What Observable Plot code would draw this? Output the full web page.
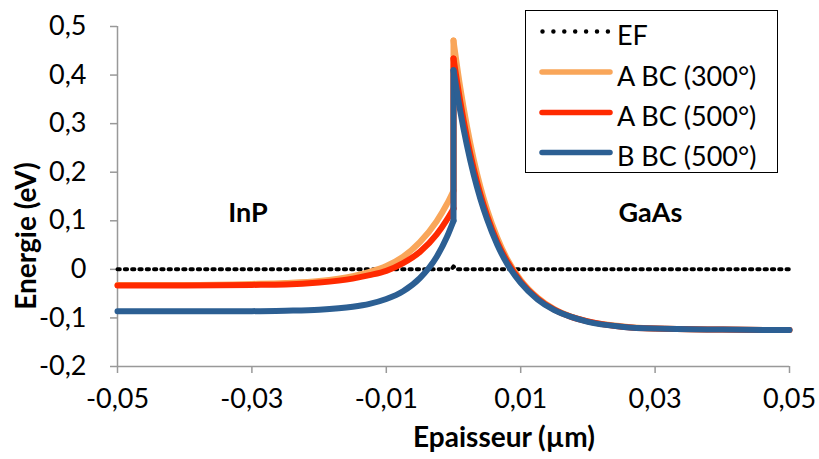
<!DOCTYPE html>
<html><head><meta charset="utf-8">
<script src="https://cdn.jsdelivr.net/npm/d3@7"></script>
<script src="https://cdn.jsdelivr.net/npm/@observablehq/plot@0.6"></script>
<style>
body{margin:0;background:#fff;}
#wrap{position:relative;width:819px;height:459px;font-family:Lato,sans-serif;overflow:hidden;}
#legend{position:absolute;left:525px;top:10px;width:253px;height:163px;border:1.5px solid #000;box-sizing:border-box;background:#fff;}
.title{position:absolute;font-family:Lato,sans-serif;font-weight:bold;font-size:28px;white-space:nowrap;color:#000;}
</style></head><body>
<div id="wrap"><div id="chart"></div><div id="legend"></div>
<div class="title" id="ytitle" style="left:25px;top:236px;transform:translate(-50%,-50%) rotate(-90deg);">Energie (eV)</div>
<div class="title" id="xtitle" style="left:504px;top:436px;transform:translate(-50%,-50%);">Epaisseur (µm)</div>
</div>
<script>
// ---- data ----
const seriesNames = ["EF", "A BC (300°)", "A BC (500°)", "B BC (500°)"];
const seriesColors = ["#000000", "#F9A65A", "#FF2A00", "#2C5F93"];
const xTicks = [-0.05, -0.03, -0.01, 0.01, 0.03, 0.05];
const yTicks = [-0.2, -0.1, 0, 0.1, 0.2, 0.3, 0.4, 0.5];

const xEF = [-0.05, -0.0003, 0, 0.0005, 0.05];
const efValues = [0, 0, 0.006, 0, 0];

const xLeft = [-0.05, -0.04, -0.03, -0.025, -0.02, -0.015, -0.0125, -0.01, -0.0075, -0.005, -0.0025, -0.001, 0];
const orangeLeft = [-0.032, -0.032, -0.030, -0.028, -0.024, -0.014, -0.005, 0.007, 0.026, 0.056, 0.099, 0.134, 0.162];
const redLeft = [-0.033, -0.033, -0.032, -0.031, -0.027, -0.019, -0.012, -0.003, 0.013, 0.036, 0.072, 0.102, 0.125];
const blueLeft = [-0.086, -0.086, -0.086, -0.085, -0.083, -0.077, -0.071, -0.061, -0.045, -0.018, 0.026, 0.066, 0.100];

const xRight = [0, 0.001, 0.002, 0.003, 0.004, 0.005, 0.0065, 0.008, 0.01, 0.0125, 0.015, 0.0175, 0.02, 0.025, 0.03, 0.04, 0.05];
const orangeRight = [0.471, 0.375, 0.295, 0.227, 0.170, 0.123, 0.066, 0.021, -0.022, -0.058, -0.082, -0.097, -0.107, -0.117, -0.122, -0.124, -0.125];
const redRight = [0.434, 0.346, 0.271, 0.208, 0.155, 0.111, 0.057, 0.016, -0.025, -0.060, -0.083, -0.098, -0.107, -0.118, -0.122, -0.124, -0.125];
const blueRight = [0.410, 0.326, 0.255, 0.195, 0.145, 0.103, 0.051, 0.011, -0.028, -0.062, -0.084, -0.098, -0.108, -0.118, -0.122, -0.124, -0.125];

// ---- build ----
const fmt = d => String(d).replace(".", ",");
const lefts = [orangeLeft, redLeft, blueLeft];
const rights = [orangeRight, redRight, blueRight];
const ef = xEF.map((x, i) => ({x, y: efValues[i]}));

const seriesMarks = [];
lefts.forEach((L, i) => {
  const color = seriesColors[i + 1];
  const R = rights[i];
  const left = xLeft.map((x, j) => ({x, y: L[j]}));
  const right = xRight.map((x, j) => ({x, y: R[j]}));
  const jump = [left[left.length - 1], right[0]];
  const opts = {x: "x", y: "y", stroke: color, strokeWidth: 6, strokeLinecap: "round", strokeLinejoin: "round"};
  seriesMarks.push(Plot.line(left, {...opts, curve: "monotone-x"}));
  seriesMarks.push(Plot.line(jump, {...opts, curve: "linear"}));
  seriesMarks.push(Plot.line(right, {...opts, curve: "monotone-x"}));
});

const chart = Plot.plot({
  width: 819, height: 459,
  marginLeft: 117, marginRight: 30, marginTop: 26, marginBottom: 93,
  style: {fontFamily: "Lato, sans-serif", fontSize: "27px", background: "white", color: "black"},
  x: {domain: [-0.05, 0.05]},
  y: {domain: [-0.2, 0.5]},
  marks: [
    Plot.ruleY([-0.2], {stroke: "#999", strokeWidth: 1.5}),
    Plot.ruleX([-0.05], {stroke: "#999", strokeWidth: 1.5}),
    Plot.axisX(xTicks, {tickSize: 7, tickPadding: 15, stroke: "#999", strokeWidth: 1.5, fill: "#000", fontSize: 27, tickFormat: fmt, label: null}),
    Plot.axisY(yTicks, {tickSize: 7, tickPadding: 24, stroke: "#999", strokeWidth: 1.5, fill: "#000", fontSize: 27, tickFormat: fmt, label: null}),
    Plot.line(ef, {x: "x", y: "y", stroke: "#000", strokeWidth: 4, strokeDasharray: "2.3 5", strokeLinecap: "round"}),
    ...seriesMarks,
    Plot.text(["InP"], {x: -0.0306, y: 0.115, text: d => d, fontWeight: "bold", fontSize: 27, fill: "#000"}),
    Plot.text(["GaAs"], {x: 0.0293, y: 0.115, text: d => d, fontWeight: "bold", fontSize: 27, fill: "#000"})
  ]
});
document.getElementById("chart").appendChild(chart);

// ---- legend ----
const lg = d3.select("#legend").append("svg").attr("width", 250).attr("height", 160)
  .style("position", "absolute").style("left", "0px").style("top", "0px").style("overflow", "visible");
const rowY = [20.5, 61, 101.5, 141.5];
seriesNames.forEach((name, i) => {
  const y = rowY[i];
  if (i === 0) {
    lg.append("line").attr("x1", 16.5).attr("x2", 82).attr("y1", y).attr("y2", y)
      .attr("stroke", "#000").attr("stroke-width", 4.5).attr("stroke-linecap", "round").attr("stroke-dasharray", "0 10.9");
  } else {
    lg.append("line").attr("x1", 16).attr("x2", 84).attr("y1", y).attr("y2", y)
      .attr("stroke", seriesColors[i]).attr("stroke-width", 5.5).attr("stroke-linecap", "round");
  }
  lg.append("text").attr("x", 91).attr("y", y + 3).attr("dominant-baseline", "central")
    .attr("font-family", "Lato, sans-serif").attr("font-size", 27).attr("fill", "#000").text(name);
});
</script>
</body></html>
